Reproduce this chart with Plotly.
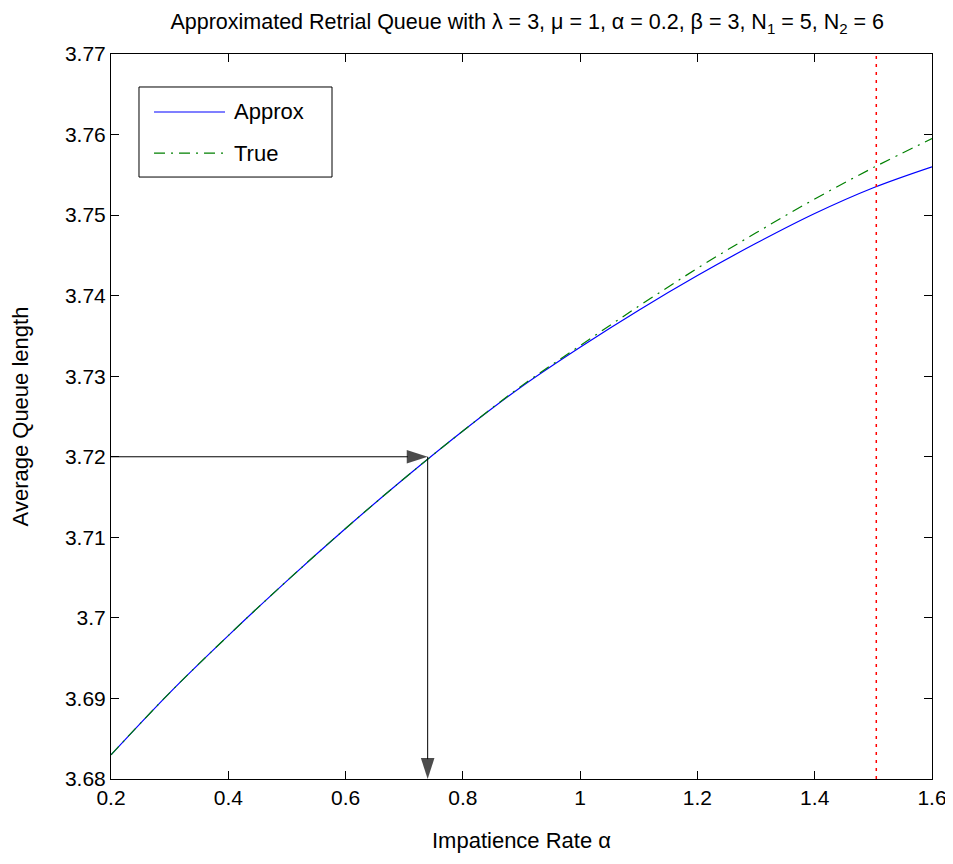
import plotly.graph_objects as go

# impatience rate (x) and average queue length
alpha = [0.2, 0.3, 0.4, 0.5, 0.6, 0.7, 0.8, 0.9, 1.0, 1.1, 1.2, 1.3, 1.4, 1.5, 1.6]
approx = [3.6830, 3.6907, 3.6978, 3.7046, 3.7111, 3.7173, 3.7232, 3.7287,
          3.7336, 3.7382, 3.7425, 3.7465, 3.7502, 3.7534, 3.7560]
true_vals = [3.6830, 3.6907, 3.6978, 3.7046, 3.7111, 3.7173, 3.7232, 3.7288,
             3.7338, 3.7387, 3.7434, 3.7478, 3.7520, 3.7559, 3.7595]

# red dotted marker line and the arrow read-off point
marker_alpha = 1.505
arrow_x = 0.74
arrow_y = 3.72

x_ticks = [0.2, 0.4, 0.6, 0.8, 1.0, 1.2, 1.4, 1.6]
x_labels = ["0.2", "0.4", "0.6", "0.8", "1", "1.2", "1.4", "1.6"]
y_ticks = [3.68, 3.69, 3.70, 3.71, 3.72, 3.73, 3.74, 3.75, 3.76, 3.77]
y_labels = ["3.68", "3.69", "3.7", "3.71", "3.72", "3.73", "3.74", "3.75", "3.76", "3.77"]

x_range = [0.2, 1.6]
y_range = [3.68, 3.77]

legend_names = ["Approx", "True"]

FONT = "Liberation Sans, Arial, Helvetica, sans-serif"
BLUE = "#0000ff"
GREEN = "#008000"
GREEN_DASH = "11px,6px,2px,6px"

fig = go.Figure()
fig.add_trace(go.Scatter(x=alpha, y=approx, mode="lines", name=legend_names[0],
                         line=dict(color=BLUE, width=1.2, shape="spline"),
                         showlegend=False))
fig.add_trace(go.Scatter(x=alpha, y=true_vals, mode="lines", name=legend_names[1],
                         line=dict(color=GREEN, width=1.2, dash=GREEN_DASH, shape="spline"),
                         showlegend=False))
fig.add_trace(go.Scatter(x=[marker_alpha, marker_alpha], y=y_range, mode="lines",
                         line=dict(color="#ff0000", width=1.5, dash="3px,5px"),
                         showlegend=False, hoverinfo="skip"))

# arrows: from the y axis to the curve, then down to the x axis
arrow_marker = dict(symbol="arrow", size=[0, 22], angleref="previous", color="black",
                    line=dict(width=0))
fig.add_trace(go.Scatter(x=[x_range[0], arrow_x], y=[arrow_y, arrow_y],
                         mode="lines+markers", line=dict(color="black", width=1),
                         marker=arrow_marker, showlegend=False, hoverinfo="skip"))
fig.add_trace(go.Scatter(x=[arrow_x, arrow_x], y=[arrow_y, y_range[0]],
                         mode="lines+markers", line=dict(color="black", width=1),
                         marker=arrow_marker, showlegend=False, hoverinfo="skip",
                         cliponaxis=False))

# matlab style legend box (sample lines are longer than plotly's own)
fig.add_shape(type="rect", xref="paper", yref="paper", x0=0.0341, x1=0.2692,
              y0=0.8303, y1=0.9545, line=dict(color="black", width=1),
              fillcolor="white", layer="above")
legend_rows = [0.92, 0.8634]
legend_styles = [dict(color=BLUE, width=1.2), dict(color=GREEN, width=1.2, dash=GREEN_DASH)]
for name, row, style in zip(legend_names, legend_rows, legend_styles):
    fig.add_shape(type="line", xref="paper", yref="paper", x0=0.0524, x1=0.1389,
                  y0=row, y1=row, line=style, layer="above")
    fig.add_annotation(x=0.1474, y=row, xref="paper", yref="paper", text=name,
                       showarrow=False, xanchor="left", yanchor="middle",
                       font=dict(size=22, color="black", family=FONT))

axis_style = dict(showgrid=False, zeroline=False, showline=True, linecolor="black",
                  linewidth=1, mirror="ticks", ticks="inside", ticklen=8,
                  tickcolor="black", tickwidth=1,
                  tickfont=dict(size=21, color="black", family=FONT))

fig.update_xaxes(range=x_range, tickvals=x_ticks, ticktext=x_labels,
                 title=dict(text="Impatience Rate α", standoff=24,
                            font=dict(size=22, color="black", family=FONT)),
                 **axis_style)
fig.update_yaxes(range=y_range, tickvals=y_ticks, ticktext=y_labels,
                 title=dict(text="Average Queue length", standoff=30,
                            font=dict(size=22, color="black", family=FONT)),
                 **axis_style)

# the page body adds an 8px offset, so margins are shifted to compensate
fig.update_layout(
    width=953, height=864,
    margin=dict(l=103, r=29, t=46, b=93, autoexpand=False),
    paper_bgcolor="white", plot_bgcolor="white",
    font=dict(family=FONT, size=21, color="black"),
    title=dict(text="Approximated Retrial Queue with λ = 3, μ = 1, α = 0.2, β = 3, "
                    "N<sub>1</sub> = 5, N<sub>2</sub> = 6",
               x=0.507, xref="paper", xanchor="center", y=0.984, yanchor="middle",
               font=dict(size=21.5, color="black", family=FONT)),
    showlegend=False,
)

fig.write_html("out.html")
